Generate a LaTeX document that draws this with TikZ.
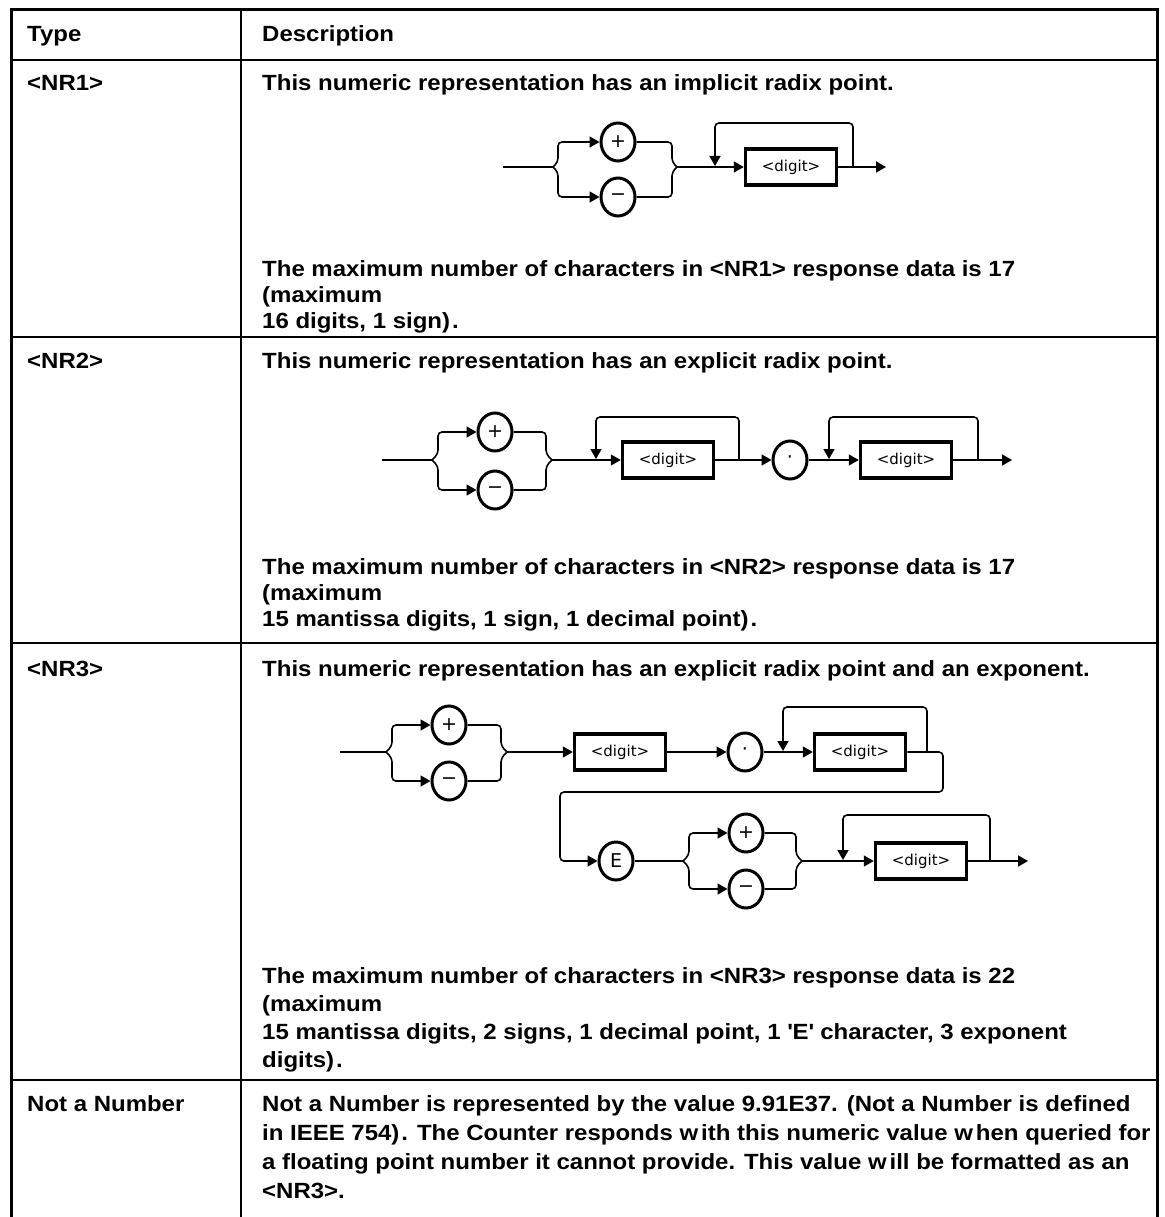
\documentclass[tikz,border=0pt]{standalone}
\usepackage{fontspec}
\setmainfont{Liberation Sans}[FakeStretch=1.09]
\newfontfamily\railfont{DejaVu Sans}
\usetikzlibrary{arrows.meta,shapes.geometric}

\tikzset{
  >={Triangle[length=10pt,width=11pt]},
  outer/.style={line width=3pt},
  rowrule/.style={line width=2pt},
  colrule/.style={line width=1.5pt},
  cell/.style={anchor=base west,inner sep=0pt,
    font=\fontsize{22}{27}\selectfont\bfseries},
  rail/.style={line width=1.6pt,rounded corners=4pt},
  term/.style={ellipse,draw,line width=3pt,minimum width=34pt,
    minimum height=38pt,inner sep=0pt,font=\railfont\fontsize{19}{19}\selectfont},
  digitbox/.style={rectangle,draw,line width=3.5pt,minimum width=91pt,
    minimum height=36pt,inner sep=0pt,font=\railfont\fontsize{15}{15}\selectfont},
}

\begin{document}
\begin{tikzpicture}[x=1pt,y=-1pt]
  \useasboundingbox (0,0) rectangle (1164,1217);

  % table frame and rules
  \draw[outer] (11.5,1217) -- (11.5,9.5) -- (1157,9.5) -- (1157,1217);
  \draw[colrule] (241,9.5) -- (241,1217);
  \foreach \y in {60,337,643,1080}
    \draw[rowrule] (11.5,\y) -- (1157,\y);

  % header
  \node[cell] (hType) at (27,42) {Type};
  \node[cell] (hDesc) at (262,42) {Description};

  % <NR1>
  \node[cell] (t1) at (27,91) {<NR1>};
  \node[cell] (d1a) at (262,91) {This numeric representation has an implicit radix point.};
  \node[cell] (d1b) at (262,276) {The maximum number of characters in <NR1> response data is 17};
  \node[cell] (d1c) at (262,302) {(maximum};
  \node[cell] (d1d) at (262,328) {16 digits, 1 sign)\kern2pt.};

  \coordinate (a1in) at (503,167);
  \coordinate (a1l) at (553,167);
  \node[term] (a1p) at (618,142) {+};
  \node[term] (a1m) at (618,197) {−};
  \coordinate (a1r) at (677,167);
  \coordinate (a1j) at (715,167);
  \node[digitbox] (a1d) at (791,167) {<digit>};
  \coordinate (a1k) at (853,167);
  \coordinate (a1out) at (886,167);
  \draw[rail] (a1in) -- (a1l);
  \draw[rail,->] (a1l) -- ++(5,-5) |- (a1p);
  \draw[rail,->] (a1l) -- ++(5,5) |- (a1m);
  \draw[rail] (a1p) -| ([shift={(-5,-5)}]a1r) -- (a1r);
  \draw[rail] (a1m) -| ([shift={(-5,5)}]a1r) -- (a1r);
  \draw[rail,->] (a1r) -- (a1d);
  \draw[rail,->] (a1d) -- (a1out);
  \draw[rail,->,shorten >=1pt] (a1k) -- ++(0,-44) -| (a1j);

  % <NR2>
  \node[cell] (t2) at (27,368) {<NR2>};
  \node[cell] (d2a) at (262,368) {This numeric representation has an explicit radix point.};
  \node[cell] (d2b) at (262,574) {The maximum number of characters in <NR2> response data is 17};
  \node[cell] (d2c) at (262,600) {(maximum};
  \node[cell] (d2d) at (262,626) {15 mantissa digits, 1 sign, 1 decimal point)\kern2pt.};

  \coordinate (b1in) at (382,460);
  \coordinate (b1l) at (432,460);
  \node[term] (b1p) at (495,432) {+};
  \node[term] (b1m) at (495,490) {−};
  \coordinate (b1r) at (552,460);
  \coordinate (b1j) at (596,460);
  \node[digitbox] (b1d) at (668,460) {<digit>};
  \coordinate (b1k) at (739,460);
  \node[term] (b1pt) at (790,460) {·};
  \coordinate (b2j) at (829,460);
  \node[digitbox] (b2d) at (906,460) {<digit>};
  \coordinate (b2k) at (978,460);
  \coordinate (b2out) at (1012,460);
  \draw[rail] (b1in) -- (b1l);
  \draw[rail,->] (b1l) -- ++(6,-6) |- (b1p);
  \draw[rail,->] (b1l) -- ++(6,6) |- (b1m);
  \draw[rail] (b1p) -| ([shift={(-6,-6)}]b1r) -- (b1r);
  \draw[rail] (b1m) -| ([shift={(-6,6)}]b1r) -- (b1r);
  \draw[rail,->] (b1r) -- (b1d);
  \draw[rail,->] (b1d) -- (b1pt);
  \draw[rail,->,shorten >=1pt] (b1k) -- ++(0,-43) -| (b1j);
  \draw[rail,->] (b1pt) -- (b2d);
  \draw[rail,->] (b2d) -- (b2out);
  \draw[rail,->,shorten >=1pt] (b2k) -- ++(0,-43) -| (b2j);

  % <NR3>
  \node[cell] (t3) at (27,676) {<NR3>};
  \node[cell] (d3a) at (262,676) {This numeric representation has an explicit radix point and an exponent.};
  \node[cell] (d3b) at (262,983) {The maximum number of characters in <NR3> response data is 22};
  \node[cell] (d3c) at (262,1011) {(maximum};
  \node[cell] (d3d) at (262,1039) {15 mantissa digits, 2 signs, 1 decimal point, 1 \textquotesingle E\textquotesingle\ character, 3 exponent};
  \node[cell] (d3e) at (262,1067) {digits)\kern2pt.};

  \coordinate (c1in) at (340,752);
  \coordinate (c1l) at (386,752);
  \node[term] (c1p) at (449,725) {+};
  \node[term] (c1m) at (449,781) {−};
  \coordinate (c1r) at (507,752);
  \node[digitbox] (c1d) at (620,752) {<digit>};
  \node[term] (c1pt) at (745,752) {·};
  \coordinate (c2j) at (783,752);
  \node[digitbox] (c2d) at (860,752) {<digit>};
  \coordinate (c2k) at (927,752);
  \coordinate (c2turn) at (943,752);
  \coordinate (cback) at (560,792);
  \node[term] (c3e) at (616,861) {E};
  \coordinate (c3l) at (683,861);
  \node[term] (c3p) at (746,833) {+};
  \node[term] (c3m) at (746,889) {−};
  \coordinate (c3r) at (802,861);
  \coordinate (c3j) at (843,861);
  \node[digitbox] (c3d) at (921,861) {<digit>};
  \coordinate (c3k) at (990,861);
  \coordinate (c3out) at (1028,861);

  \draw[rail] (c1in) -- (c1l);
  \draw[rail,->] (c1l) -- ++(6,-6) |- (c1p);
  \draw[rail,->] (c1l) -- ++(6,6) |- (c1m);
  \draw[rail] (c1p) -| ([shift={(-6,-6)}]c1r) -- (c1r);
  \draw[rail] (c1m) -| ([shift={(-6,6)}]c1r) -- (c1r);
  \draw[rail,->] (c1r) -- (c1d);
  \draw[rail,->] (c1d) -- (c1pt);
  \draw[rail,->] (c1pt) -- (c2d);
  \draw[rail,->,shorten >=1pt] (c2k) -- ++(0,-45) -| (c2j);
  \draw[rail,->] (c2d) -- (c2turn) |- (cback) |- (c3e);
  \draw[rail] (c3e) -- (c3l);
  \draw[rail,->] (c3l) -- ++(6,-6) |- (c3p);
  \draw[rail,->] (c3l) -- ++(6,6) |- (c3m);
  \draw[rail] (c3p) -| ([shift={(-6,-6)}]c3r) -- (c3r);
  \draw[rail] (c3m) -| ([shift={(-6,6)}]c3r) -- (c3r);
  \draw[rail,->] (c3r) -- (c3d);
  \draw[rail,->] (c3d) -- (c3out);
  \draw[rail,->,shorten >=1pt] (c3k) -- ++(0,-46) -| (c3j);

  % Not a Number
  \node[cell] (t4) at (27,1111) {Not a Number};
  \node[cell] (d4a) at (262,1111) {Not a Number is represented by the value 9.91E37. (Not a Number is defined};
  \node[cell] (d4b) at (262,1140) {in IEEE 754)\kern2pt. The Counter responds w\kern3pt ith this numeric value w\kern3pt hen queried for};
  \node[cell] (d4c) at (262,1169) {a floating point number it cannot provide. This value w\kern3pt ill be formatted as an};
  \node[cell] (d4d) at (262,1198) {<NR3>.};
\end{tikzpicture}
\end{document}
